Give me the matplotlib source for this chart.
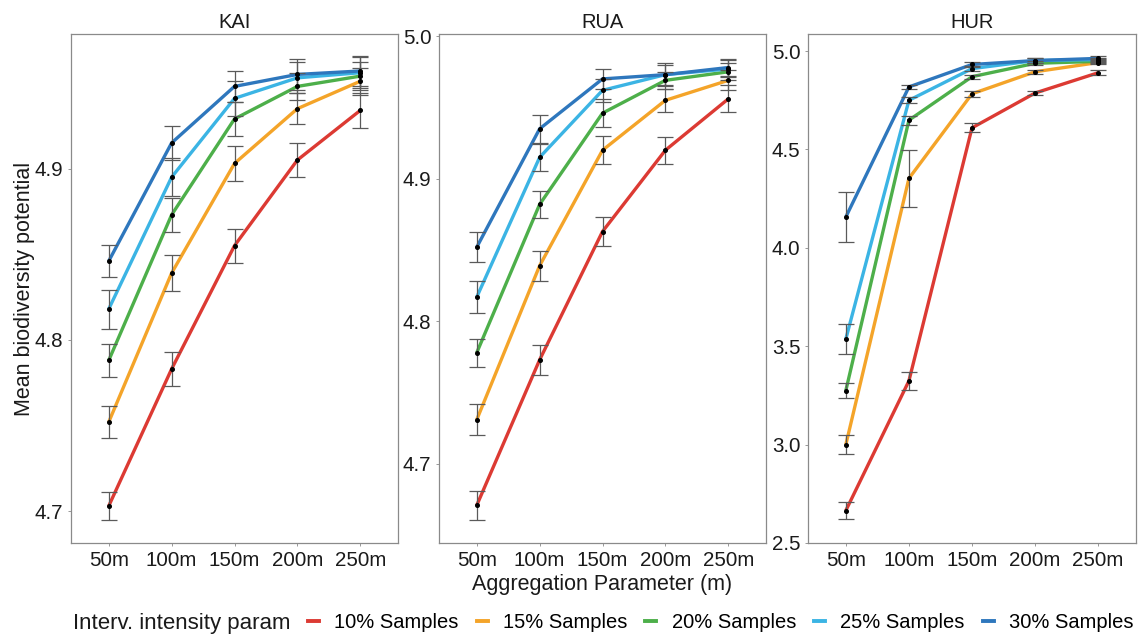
import numpy as np
import matplotlib
matplotlib.use('Agg')
import matplotlib.pyplot as plt
from matplotlib.lines import Line2D

plt.rcParams['font.family'] = ['Liberation Sans', 'DejaVu Sans']

# Aggregation parameter categories and sample-intensity series
x_labels = ['50m', '100m', '150m', '200m', '250m']
series_names = ['10% Samples', '15% Samples', '20% Samples', '25% Samples', '30% Samples']
series_colors = ['#DC3A33', '#F4A429', '#4DAF4A', '#3BB4E4', '#2E77BD']

# KAI means and error half-widths (rows = series, cols = aggregation)
kai_mean = [
    [4.703, 4.783, 4.855, 4.905, 4.934],
    [4.752, 4.839, 4.903, 4.935, 4.951],
    [4.788, 4.873, 4.929, 4.948, 4.954],
    [4.818, 4.895, 4.941, 4.953, 4.956],
    [4.846, 4.915, 4.948, 4.955, 4.957],
]
kai_err = [
    [0.008, 0.010, 0.010, 0.010, 0.010],
    [0.0095, 0.0105, 0.0104, 0.009, 0.008],
    [0.0095, 0.0098, 0.010, 0.008, 0.008],
    [0.0114, 0.011, 0.010, 0.009, 0.009],
    [0.0095, 0.010, 0.009, 0.009, 0.009],
]

# RUA
rua_mean = [
    [4.671, 4.773, 4.863, 4.920, 4.956],
    [4.731, 4.839, 4.920, 4.955, 4.969],
    [4.778, 4.882, 4.946, 4.969, 4.975],
    [4.817, 4.915, 4.962, 4.973, 4.977],
    [4.852, 4.935, 4.970, 4.973, 4.978],
]
rua_err = [
    [0.0104, 0.0106, 0.0104, 0.0096, 0.0094],
    [0.011, 0.0104, 0.010, 0.008, 0.007],
    [0.0097, 0.0093, 0.0097, 0.006, 0.006],
    [0.011, 0.0094, 0.008, 0.007, 0.006],
    [0.0104, 0.0096, 0.007, 0.008, 0.006],
]

# HUR
hur_mean = [
    [2.665, 3.324, 4.610, 4.787, 4.890],
    [3.000, 4.353, 4.783, 4.895, 4.942],
    [3.275, 4.649, 4.870, 4.938, 4.948],
    [3.537, 4.750, 4.911, 4.952, 4.957],
    [4.157, 4.818, 4.932, 4.952, 4.963],
]
hur_err = [
    [0.042, 0.044, 0.023, 0.012, 0.012],
    [0.050, 0.144, 0.015, 0.010, 0.010],
    [0.036, 0.023, 0.010, 0.010, 0.010],
    [0.074, 0.015, 0.012, 0.012, 0.010],
    [0.129, 0.010, 0.012, 0.012, 0.010],
]

panels = [
    ('KAI', kai_mean, kai_err, (4.6814, 4.9786), [4.7, 4.8, 4.9]),
    ('RUA', rua_mean, rua_err, (4.6446, 5.0015), [4.7, 4.8, 4.9, 5.0]),
    ('HUR', hur_mean, hur_err, (2.508, 5.087), [2.5, 3.0, 3.5, 4.0, 4.5, 5.0]),
]

W, H = 1146, 639
fig = plt.figure(figsize=(W / 100, H / 100), dpi=100)

# axes boxes in pixels: (left, right), top/bottom shared
box_x = [(71, 398), (439, 766), (808, 1136)]
top_px, bot_px = 34, 543
TXT = '#1a1a1a'

x = np.arange(1, 6)
for (title, means, errs, ylim, yticks), (lx, rx) in zip(panels, box_x):
    ax = fig.add_axes([lx / W, (H - bot_px) / H, (rx - lx) / W, (bot_px - top_px) / H])
    for m, e, c in zip(means, errs, series_colors):
        ax.plot(x, m, color=c, lw=2.4, zorder=2, solid_capstyle='butt')
    for m, e in zip(means, errs):
        ax.errorbar(x, m, yerr=e, fmt='none', ecolor='#5a5a5a', elinewidth=0.9,
                    capsize=5.5, capthick=0.9, zorder=3)
    for m in means:
        ax.plot(x, m, 'o', color='black', ms=2.6, zorder=4)
    ax.set_xlim(0.4, 5.6)
    ax.set_ylim(*ylim)
    ax.set_xticks(x)
    ax.set_xticklabels(x_labels)
    ax.set_yticks(yticks)
    ax.set_yticklabels([f'{t:.1f}' for t in yticks])
    ax.tick_params(labelsize=14.8, length=2.5, width=0.6, color='#888888',
                   labelcolor=TXT, pad=3)
    for s in ax.spines.values():
        s.set_color('#8a8a8a')
        s.set_linewidth(0.9)
    ax.set_title(title, fontsize=14.5, color=TXT, pad=4)
    if title == 'KAI':
        ax.set_ylabel('Mean biodiversity potential', fontsize=15.5, color=TXT, labelpad=0)
    if title == 'RUA':
        ax.set_xlabel('Aggregation Parameter (m)', fontsize=15.5, color=TXT, labelpad=3)

# legend along the bottom
fig.text(73 / W, 1 - 623 / H, 'Interv. intensity param', fontsize=16,
         color=TXT, va='center', ha='left')
handles = [Line2D([0], [0], color=c, lw=2.8) for c in series_colors]
fig.legend(handles, series_names, loc='center left', bbox_to_anchor=(304 / W, 1 - 623 / H),
           ncol=5, frameon=False, fontsize=14.5, handlelength=0.55, handletextpad=0.75,
           columnspacing=0.9, borderpad=0.2, borderaxespad=0)

fig.savefig('out.png', dpi=100)
